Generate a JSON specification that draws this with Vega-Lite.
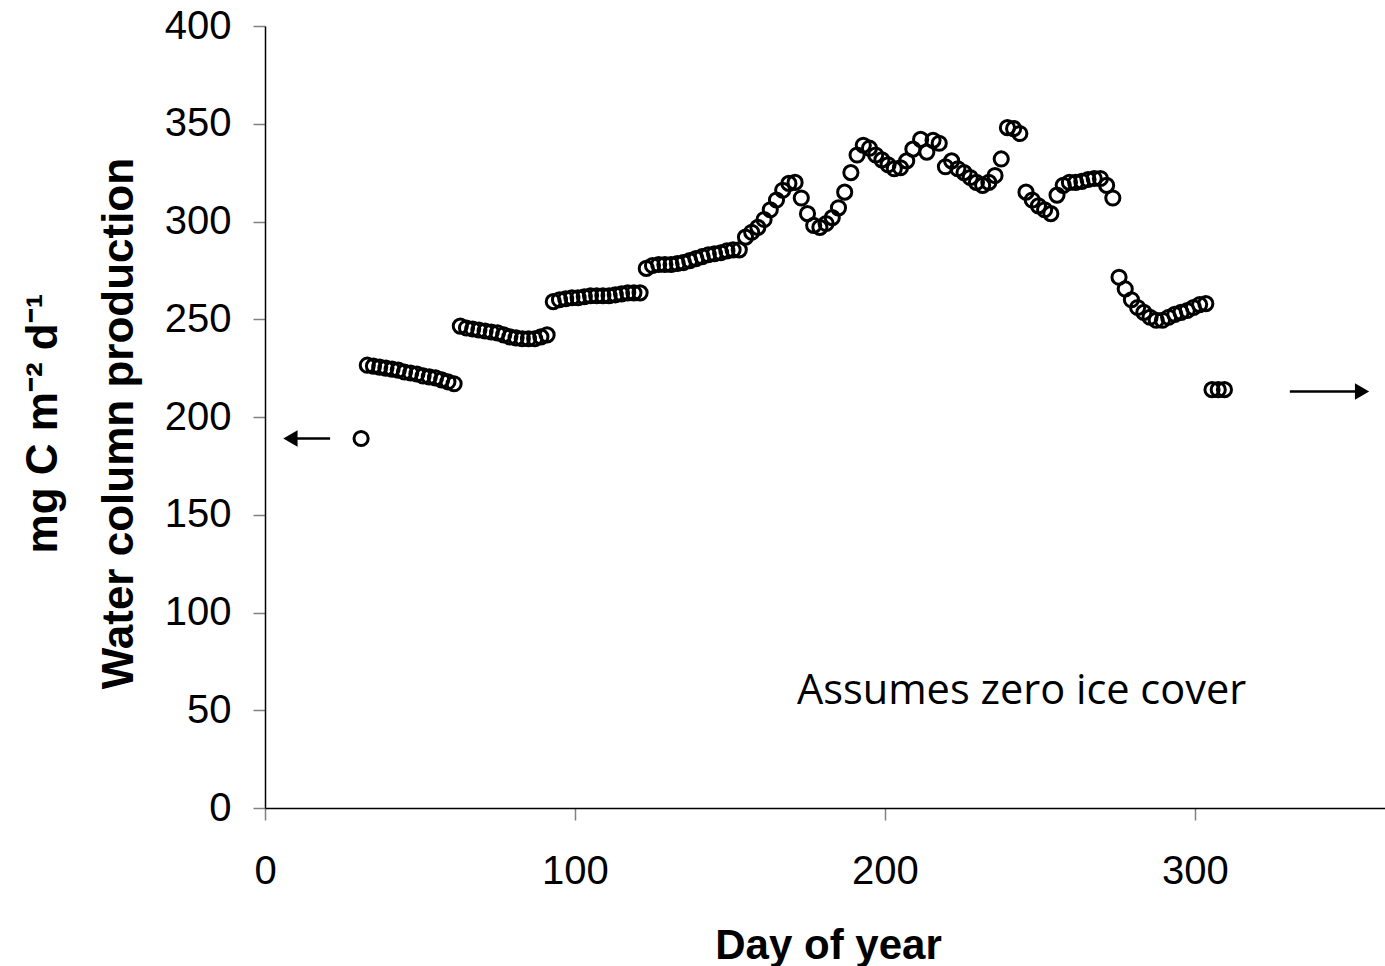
{
  "$schema": "https://vega.github.io/schema/vega-lite/v6.json",
  "width": 1120,
  "height": 782,
  "autosize": {"type": "none"},
  "padding": {"left": 265, "top": 26, "right": 0, "bottom": 158},
  "background": "white",
  "config": {
    "view": {"stroke": null},
    "axis": {"grid": false, "labelFont": "Liberation Sans", "titleFont": "Liberation Sans"}
  },
  "datasets": {
    "production": [
      {"day": 31, "mgC": 189},
      {"day": 33, "mgC": 226.5}, {"day": 35, "mgC": 226}, {"day": 37, "mgC": 225.5}, {"day": 39, "mgC": 225},
      {"day": 41, "mgC": 224.5}, {"day": 43, "mgC": 224}, {"day": 45, "mgC": 223}, {"day": 47, "mgC": 222.5},
      {"day": 49, "mgC": 222}, {"day": 51, "mgC": 221}, {"day": 53, "mgC": 220.5}, {"day": 55, "mgC": 220},
      {"day": 57, "mgC": 219}, {"day": 59, "mgC": 218}, {"day": 61, "mgC": 217},
      {"day": 63, "mgC": 246.5}, {"day": 65, "mgC": 245.5}, {"day": 67, "mgC": 245}, {"day": 69, "mgC": 244.5},
      {"day": 71, "mgC": 244}, {"day": 73, "mgC": 243.5}, {"day": 75, "mgC": 243}, {"day": 77, "mgC": 242},
      {"day": 79, "mgC": 241}, {"day": 81, "mgC": 240.5}, {"day": 83, "mgC": 240}, {"day": 85, "mgC": 240},
      {"day": 87, "mgC": 240}, {"day": 89, "mgC": 241}, {"day": 91, "mgC": 242},
      {"day": 93, "mgC": 259}, {"day": 95, "mgC": 260}, {"day": 97, "mgC": 260.5}, {"day": 99, "mgC": 261},
      {"day": 101, "mgC": 261}, {"day": 103, "mgC": 261.5}, {"day": 105, "mgC": 262}, {"day": 107, "mgC": 262},
      {"day": 109, "mgC": 262}, {"day": 111, "mgC": 262}, {"day": 113, "mgC": 262.5}, {"day": 115, "mgC": 263},
      {"day": 117, "mgC": 263.5}, {"day": 119, "mgC": 263.5}, {"day": 121, "mgC": 263.5},
      {"day": 123, "mgC": 276}, {"day": 125, "mgC": 277.5}, {"day": 127, "mgC": 278}, {"day": 129, "mgC": 278},
      {"day": 131, "mgC": 278}, {"day": 133, "mgC": 278.5}, {"day": 135, "mgC": 279}, {"day": 137, "mgC": 280},
      {"day": 139, "mgC": 281}, {"day": 141, "mgC": 282}, {"day": 143, "mgC": 283}, {"day": 145, "mgC": 283.5},
      {"day": 147, "mgC": 284}, {"day": 149, "mgC": 285}, {"day": 151, "mgC": 285.5}, {"day": 153, "mgC": 285.5},
      {"day": 155, "mgC": 292}, {"day": 157, "mgC": 294.5}, {"day": 159, "mgC": 297}, {"day": 161, "mgC": 301},
      {"day": 163, "mgC": 306}, {"day": 165, "mgC": 311}, {"day": 167, "mgC": 316}, {"day": 169, "mgC": 319.5},
      {"day": 171, "mgC": 320}, {"day": 173, "mgC": 312}, {"day": 175, "mgC": 304}, {"day": 177, "mgC": 298},
      {"day": 179, "mgC": 297}, {"day": 181, "mgC": 299}, {"day": 183, "mgC": 302}, {"day": 185, "mgC": 307},
      {"day": 187, "mgC": 315}, {"day": 189, "mgC": 325}, {"day": 191, "mgC": 334}, {"day": 193, "mgC": 339},
      {"day": 195, "mgC": 337.5}, {"day": 197, "mgC": 334}, {"day": 199, "mgC": 331.5}, {"day": 201, "mgC": 329},
      {"day": 203, "mgC": 327}, {"day": 205, "mgC": 327.5}, {"day": 207, "mgC": 331}, {"day": 209, "mgC": 337},
      {"day": 211.5, "mgC": 342}, {"day": 213.5, "mgC": 335.5}, {"day": 215.5, "mgC": 341.5}, {"day": 217.5, "mgC": 340},
      {"day": 219.5, "mgC": 328}, {"day": 221.5, "mgC": 331}, {"day": 223.5, "mgC": 327}, {"day": 225.5, "mgC": 325},
      {"day": 227.5, "mgC": 322.5}, {"day": 229.5, "mgC": 320}, {"day": 231.5, "mgC": 318.5}, {"day": 233.5, "mgC": 320},
      {"day": 235.5, "mgC": 323.5}, {"day": 237.5, "mgC": 332}, {"day": 239.5, "mgC": 348}, {"day": 241.5, "mgC": 347.5},
      {"day": 243.5, "mgC": 345}, {"day": 245.5, "mgC": 315}, {"day": 247.5, "mgC": 311}, {"day": 249.5, "mgC": 308},
      {"day": 251.5, "mgC": 306}, {"day": 253.5, "mgC": 304}, {"day": 255.5, "mgC": 313.5}, {"day": 257.5, "mgC": 318.5},
      {"day": 259.5, "mgC": 320}, {"day": 261.5, "mgC": 320}, {"day": 263.5, "mgC": 320.5}, {"day": 265.5, "mgC": 321.5},
      {"day": 267.5, "mgC": 322}, {"day": 269.5, "mgC": 322}, {"day": 271.5, "mgC": 318.5}, {"day": 273.5, "mgC": 312},
      {"day": 275.5, "mgC": 271.5}, {"day": 277.5, "mgC": 265.5}, {"day": 279.5, "mgC": 260}, {"day": 281.5, "mgC": 256},
      {"day": 283.5, "mgC": 253.5}, {"day": 285.5, "mgC": 251}, {"day": 287.5, "mgC": 249.5}, {"day": 289.5, "mgC": 249.5},
      {"day": 291.5, "mgC": 251}, {"day": 293.5, "mgC": 252.5}, {"day": 295.5, "mgC": 253.5}, {"day": 297.5, "mgC": 254.5},
      {"day": 299.5, "mgC": 256}, {"day": 301.5, "mgC": 257.5}, {"day": 303.5, "mgC": 258},
      {"day": 305.5, "mgC": 214}, {"day": 307.5, "mgC": 214}, {"day": 309.5, "mgC": 214}
    ],
    "arrows": [
      {"from": 21, "to": 8, "mgC": 189, "head": 8.2, "shape": "triangle-left"},
      {"from": 330.6, "to": 353, "mgC": 213, "head": 353.9, "shape": "triangle-right"}
    ],
    "notes": [
      {"day": 171.6, "mgC": 53.2, "note": "Assumes zero ice cover"}
    ]
  },
  "layer": [
    {
      "data": {"name": "production"},
      "mark": {"type": "point", "shape": "circle", "filled": false, "stroke": "black", "strokeWidth": 3, "size": 200, "opacity": 1},
      "encoding": {
        "x": {
          "field": "day", "type": "quantitative",
          "scale": {"domain": [0, 361.3], "nice": false, "zero": false},
          "axis": {
            "values": [0, 100, 200, 300],
            "title": "Day of year",
            "titleFontSize": 42, "titleFontWeight": "bold", "titleColor": "black",
            "titleAnchor": "middle", "titleBaseline": "alphabetic", "titleY": 150, "titleX": 563,
            "labelFontSize": 40, "labelColor": "black", "labelPadding": 31, "labelFlush": false,
            "domainColor": "black", "domainWidth": 1.5,
            "tickColor": "#808080", "tickSize": 12, "tickWidth": 1.5
          }
        },
        "y": {
          "field": "mgC", "type": "quantitative",
          "scale": {"domain": [0, 400], "nice": false, "zero": true},
          "axis": {
            "values": [0, 50, 100, 150, 200, 250, 300, 350, 400],
            "title": ["mg C m⁻² d⁻¹", "Water column production"],
            "titleFontSize": 44, "titleFontWeight": "bold", "titleColor": "black",
            "titleAngle": -90, "titleAlign": "center", "titleBaseline": "middle",
            "titleLineHeight": 76, "titleX": -222, "titleY": 397,
            "labelFontSize": 40, "labelColor": "black", "labelPadding": 22,
            "domainColor": "black", "domainWidth": 1.5,
            "tickColor": "#808080", "tickSize": 12, "tickWidth": 1.5
          }
        }
      }
    },
    {
      "data": {"name": "arrows"},
      "mark": {"type": "rule", "stroke": "black", "strokeWidth": 2.5},
      "encoding": {
        "x": {"field": "from", "type": "quantitative", "scale": {"domain": [0, 361.3], "nice": false, "zero": false}},
        "x2": {"field": "to"},
        "y": {"field": "mgC", "type": "quantitative", "scale": {"domain": [0, 400], "nice": false}}
      }
    },
    {
      "data": {"name": "arrows"},
      "mark": {"type": "point", "filled": true, "fill": "black", "stroke": null, "size": 270, "opacity": 1},
      "encoding": {
        "x": {"field": "head", "type": "quantitative", "scale": {"domain": [0, 361.3], "nice": false, "zero": false}},
        "y": {"field": "mgC", "type": "quantitative", "scale": {"domain": [0, 400], "nice": false}},
        "shape": {"field": "shape", "type": "nominal", "scale": null}
      }
    },
    {
      "data": {"name": "notes"},
      "mark": {"type": "text", "align": "left", "baseline": "alphabetic", "font": "Open Sans", "fontSize": 41.5, "color": "black"},
      "encoding": {
        "x": {"field": "day", "type": "quantitative", "scale": {"domain": [0, 361.3], "nice": false, "zero": false}},
        "y": {"field": "mgC", "type": "quantitative", "scale": {"domain": [0, 400], "nice": false}},
        "text": {"field": "note"}
      }
    }
  ]
}
